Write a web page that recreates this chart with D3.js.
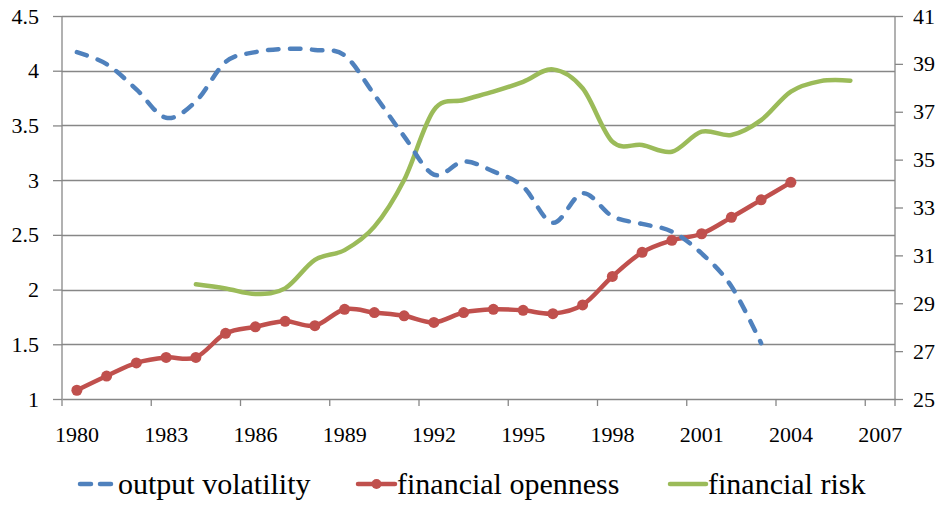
<!DOCTYPE html>
<html>
<head>
<meta charset="utf-8">
<script src="https://cdn.jsdelivr.net/npm/d3@7"></script>
</head>
<body style="margin:0">
<div id="chart"></div>
<script>
// Years on the category axis
var years = d3.range(1980, 2008);

// Output volatility (left axis), 1980-2003
var outputVolatility = [4.17, 4.06, 3.83, 3.57, 3.72, 4.08, 4.17, 4.20, 4.19, 4.14,
  3.78, 3.40, 3.05, 3.17, 3.08, 2.94, 2.61, 2.88, 2.67, 2.60,
  2.53, 2.33, 2.03, 1.51, null, null, null, null];

// Financial openness (left axis), 1980-2004
var financialOpenness = [1.08, 1.21, 1.33, 1.38, 1.38, 1.60, 1.66, 1.71, 1.67, 1.82,
  1.79, 1.76, 1.70, 1.79, 1.82, 1.81, 1.78, 1.86, 2.12, 2.34,
  2.45, 2.51, 2.66, 2.82, 2.98, null, null, null];

// Financial risk (right axis), 1984-2006
var financialRisk = [null, null, null, null, 29.79, 29.62, 29.39, 29.62, 30.81, 31.22,
  32.20, 34.15, 37.07, 37.49, 37.84, 38.25, 38.77, 37.98, 35.75, 35.61,
  35.33, 36.17, 36.03, 36.65, 37.84, 38.28, 38.30, null];

var leftTicks = [1, 1.5, 2, 2.5, 3, 3.5, 4, 4.5];
var rightTicks = [25, 27, 29, 31, 33, 35, 37, 39, 41];
var yearLabels = [1980, 1983, 1986, 1989, 1992, 1995, 1998, 2001, 2004, 2007];

var legendItems = ["output volatility", "financial openness", "financial risk"];

var width = 942, height = 505;
var plot = { left: 62, right: 895, top: 16, bottom: 399 };
var gray = "#878787";
var font = "Liberation Serif";
var colors = ["#4F81BD", "#C0504D", "#9BBB59"];

var svg = d3.select("#chart")
  .append("svg")
  .attr("width", width)
  .attr("height", height)
  .style("font-family", font, "important");

// Scales
var x = d3.scaleBand()
  .domain(years)
  .range([plot.left, plot.right]);

var yLeft = d3.scaleLinear()
  .domain([1, 4.5])
  .range([plot.bottom, plot.top]);

var yRight = d3.scaleLinear()
  .domain([25, 41])
  .range([plot.bottom, plot.top]);

function cx(i) { return x(years[i]) + x.bandwidth() / 2; }

// Gridlines
svg.append("g")
  .selectAll("line")
  .data(leftTicks.slice(1))
  .join("line")
  .attr("x1", plot.left)
  .attr("x2", plot.right)
  .attr("y1", function (d) { return Math.round(yLeft(d)) + 0.5; })
  .attr("y2", function (d) { return Math.round(yLeft(d)) + 0.5; })
  .attr("stroke", gray)
  .attr("stroke-width", 1.3);

// Left axis
var leftAxis = svg.append("g")
  .attr("transform", "translate(" + plot.left + ",0)")
  .call(d3.axisLeft(yLeft).tickValues(leftTicks).tickSize(9).tickPadding(14)
    .tickFormat(function (d) { return String(d); }));

// Right axis
var rightAxis = svg.append("g")
  .attr("transform", "translate(" + plot.right + ",0)")
  .call(d3.axisRight(yRight).tickValues(rightTicks).tickSize(8).tickPadding(10)
    .tickFormat(function (d) { return String(d); }));

// Bottom axis: labels centred on categories
var bottomAxis = svg.append("g")
  .attr("transform", "translate(0," + plot.bottom + ")")
  .call(d3.axisBottom(x).tickValues(yearLabels).tickSize(0).tickPadding(27));

// Bottom tick marks sit on category boundaries every 3 years
bottomAxis.append("g")
  .selectAll("line")
  .data(yearLabels.concat([2008]))
  .join("line")
  .attr("x1", function (d) { return d > 2007 ? plot.right : x(d); })
  .attr("x2", function (d) { return d > 2007 ? plot.right : x(d); })
  .attr("y1", 0)
  .attr("y2", 7)
  .attr("stroke", gray)
  .attr("stroke-width", 1.3);

[leftAxis, rightAxis, bottomAxis].forEach(function (g) {
  g.attr("font-family", font).attr("font-size", 22);
  g.select(".domain").attr("stroke", gray).attr("stroke-width", 1.3);
  g.selectAll(".tick line").attr("stroke", gray).attr("stroke-width", 1.3);
  g.selectAll("text")
    .attr("fill", "#000")
    .attr("font-family", font)
    .style("font-family", font, "important")
    .style("font-size", "22px");
});
leftAxis.select(".domain").attr("d", "M0," + plot.top + "V" + plot.bottom);
rightAxis.select(".domain").attr("d", "M0," + plot.top + "V" + plot.bottom);

// Line generators
function lineFor(scale) {
  return d3.line()
    .defined(function (d) { return d != null; })
    .x(function (d, i) { return cx(i); })
    .y(function (d) { return scale(d); })
    .curve(d3.curveCardinal.tension(0));
}

// Financial risk
svg.append("path")
  .datum(financialRisk)
  .attr("fill", "none")
  .attr("stroke", colors[2])
  .attr("stroke-width", 4.5)
  .attr("stroke-linecap", "round")
  .attr("stroke-linejoin", "round")
  .attr("d", lineFor(yRight));

// Financial openness
svg.append("path")
  .datum(financialOpenness)
  .attr("fill", "none")
  .attr("stroke", colors[1])
  .attr("stroke-width", 4.5)
  .attr("stroke-linecap", "round")
  .attr("stroke-linejoin", "round")
  .attr("d", lineFor(yLeft));

svg.append("g")
  .selectAll("circle")
  .data(financialOpenness.map(function (d, i) { return { v: d, i: i }; })
    .filter(function (d) { return d.v != null; }))
  .join("circle")
  .attr("cx", function (d) { return cx(d.i); })
  .attr("cy", function (d) { return yLeft(d.v); })
  .attr("r", 5.5)
  .attr("fill", colors[1]);

// Output volatility
svg.append("path")
  .datum(outputVolatility)
  .attr("fill", "none")
  .attr("stroke", colors[0])
  .attr("stroke-width", 4.5)
  .attr("stroke-linecap", "round")
  .attr("stroke-dasharray", "10.5,11.5")
  .attr("d", lineFor(yLeft));

// Legend
var legendY = 484;
var legendPos = [
  { x1: 80, x2: 116, tx: 118 },
  { x1: 358, x2: 395, tx: 397 },
  { x1: 670, x2: 706, tx: 708 }
];

var legend = svg.append("g");
legendItems.forEach(function (name, k) {
  var p = legendPos[k];
  var l = legend.append("line")
    .attr("x1", p.x1)
    .attr("x2", p.x2)
    .attr("y1", legendY)
    .attr("y2", legendY)
    .attr("stroke", colors[k])
    .attr("stroke-width", 4.5)
    .attr("stroke-linecap", "round");
  if (k === 0) l.attr("stroke-dasharray", "11,9");
  if (k === 1) {
    legend.append("circle")
      .attr("cx", (p.x1 + p.x2) / 2)
      .attr("cy", legendY)
      .attr("r", 5)
      .attr("fill", colors[1]);
  }
  legend.append("text")
    .attr("x", p.tx)
    .attr("y", 494)
    .attr("font-family", font)
    .style("font-family", font, "important")
    .style("font-size", "30px")
    .attr("fill", "#000")
    .text(name);
});
</script>
</body>
</html>
